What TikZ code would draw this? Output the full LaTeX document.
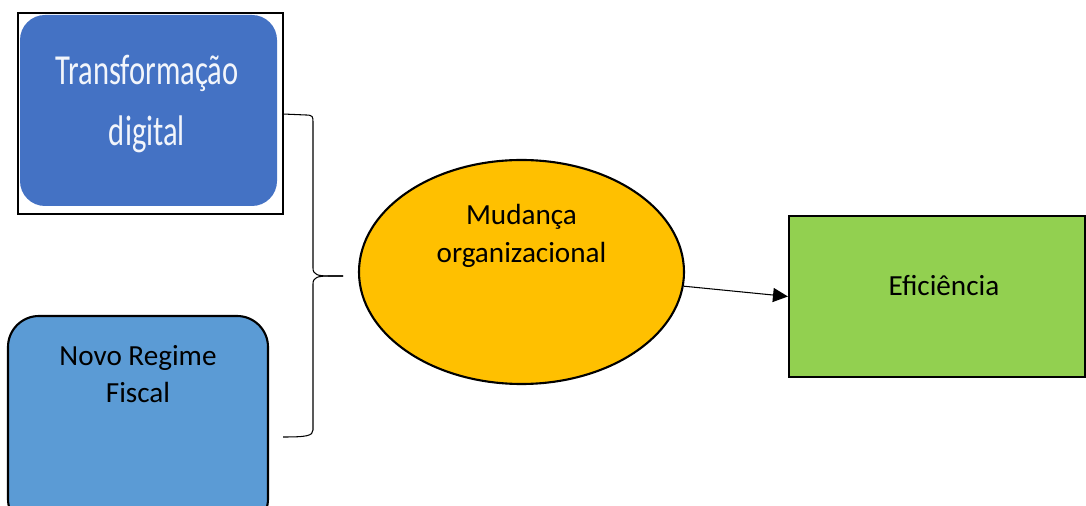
\documentclass[tikz,border=0pt]{standalone}
\usepackage{fontspec}
\setmainfont{Carlito}
\usetikzlibrary{shapes.geometric, arrows.meta}

\definecolor{tdblue}{HTML}{4472C4}
\definecolor{nrfblue}{HTML}{5B9BD5}
\definecolor{mudyellow}{HTML}{FFC000}
\definecolor{efigreen}{HTML}{92D050}

\begin{document}
\begin{tikzpicture}[x=0.02cm, y=-0.02cm,
	box/.style = {draw, line width=1.2pt, inner sep=0pt},
	txt/.style = {align=center, inner sep=0pt, font=\fontsize{16.6}{21.5}\selectfont}]

\useasboundingbox (0,0) rectangle (1086,506);
\clip (0,0) rectangle (1086,506);

% transformacao digital
\node[draw, line width=0.8pt, minimum width=265*0.02cm, minimum height=201*0.02cm,
	inner sep=0pt] (tdframe) at (150.5,113.5) {};
\node[fill=tdblue, rounded corners=0.5cm, minimum width=257*0.02cm,
	minimum height=191*0.02cm, inner sep=0pt] (td) at (148.5,110.5) {};
\node[txt, text=white!93!tdblue, font=\fontsize{17.4}{35}\selectfont] (tdtext) at (147,104)
	{\scalebox{1}[1.4]{Transformação}\\\scalebox{1}[1.4]{digital}};

% novo regime fiscal
\node[box, fill=nrfblue, rounded corners=0.62cm, minimum width=260*0.02cm,
	minimum height=214*0.02cm] (nrf) at (138,423) {};
\node[txt] (nrftext) at (138,374) {Novo Regime\\Fiscal};

% chave
\coordinate (bracetop) at (283,114);
\coordinate (bracetip) at (343,276);
\coordinate (bracebot) at (283,437);
\draw[line width=0.6pt] (bracetop) -- (306,115) .. controls (313,115) and (313,117) .. (313,122)
	-- (313,268) .. controls (313,275) and (318,276) .. (330,276) -- (bracetip);
\draw[line width=0.6pt] (bracetip) -- (330,276) .. controls (318,276) and (313,277) .. (313,284)
	-- (313,430) .. controls (313,436) and (306,437) .. (bracebot);

% mudanca organizacional
\node[box, ellipse, fill=mudyellow, minimum width=325*0.02cm, minimum height=224*0.02cm]
	(mud) at (521.5,272) {};
\node[txt] (mudtext) at (521.5,236) {Mudança\\organizacional};

% eficiencia
\node[box, fill=efigreen, minimum width=296*0.02cm, minimum height=161*0.02cm]
	(efi) at (937,296.5) {};
\node[txt] (efitext) at (944,286) {Eficiência};

\draw[line width=0.6pt, -{Triangle[length=8.5pt, width=8pt]}] (mud.-5) -- (efi.west);
\end{tikzpicture}
\end{document}
